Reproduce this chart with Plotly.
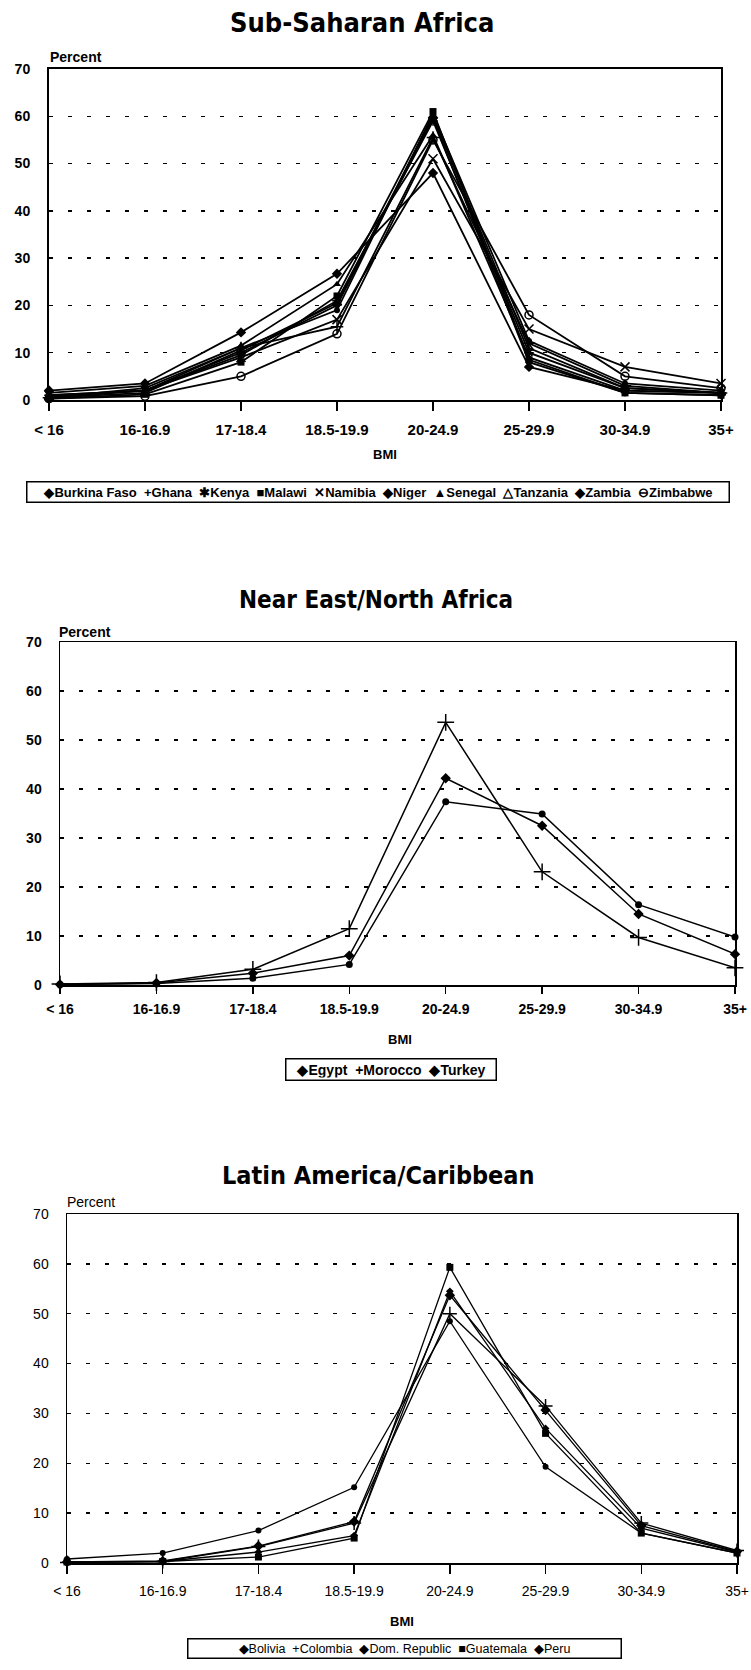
import plotly.graph_objects as go

# ---------------- data ----------------
bmi_categories = ["< 16", "16-16.9", "17-18.4", "18.5-19.9", "20-24.9", "25-29.9", "30-34.9", "35+"]

# Sub-Saharan Africa (percent of women in each BMI class)
ssa_burkina_faso = [0.8, 2.0, 10.0, 20.0, 59.5, 8.0, 1.5, 1.0]
ssa_ghana = [0.5, 2.0, 11.0, 15.5, 55.5, 12.0, 3.0, 1.5]
ssa_kenya = [1.0, 2.0, 9.5, 21.0, 59.0, 10.0, 2.5, 1.5]
ssa_malawi = [0.3, 1.2, 8.0, 22.0, 61.0, 8.5, 1.5, 1.0]
ssa_namibia = [1.0, 2.0, 9.0, 17.0, 51.0, 15.0, 7.0, 3.5]
ssa_niger = [2.0, 3.5, 14.3, 26.7, 48.0, 7.0, 2.0, 1.5]
ssa_senegal = [1.5, 3.0, 11.5, 24.5, 56.0, 9.0, 2.0, 1.5]
ssa_tanzania = [0.5, 1.5, 10.5, 20.5, 60.0, 11.0, 2.5, 1.5]
ssa_zambia = [0.5, 2.5, 11.0, 19.0, 60.5, 12.5, 3.5, 2.0]
ssa_zimbabwe = [0.3, 0.8, 5.0, 14.0, 55.0, 18.0, 5.0, 2.5]

# Near East / North Africa
ne_egypt = [0.1, 0.3, 1.4, 4.2, 37.4, 34.9, 16.4, 9.8]
ne_morocco = [0.2, 0.5, 3.2, 11.5, 53.6, 23.1, 9.7, 3.5]
ne_turkey = [0.1, 0.4, 2.4, 6.0, 42.2, 32.5, 14.5, 6.3]

# Latin America / Caribbean
la_bolivia = [0.2, 0.3, 2.2, 5.5, 54.5, 27.0, 7.0, 2.2]
la_colombia = [0.1, 0.3, 3.3, 8.0, 50.0, 31.5, 8.0, 2.5]
la_dom_republic = [0.8, 2.0, 6.5, 15.2, 48.5, 19.3, 6.0, 2.0]
la_guatemala = [0.2, 0.3, 1.2, 5.0, 59.3, 26.0, 6.0, 2.0]
la_peru = [0.2, 0.4, 3.4, 8.3, 53.7, 30.7, 7.5, 2.3]

# ---------------- styling ----------------
W, H = 751, 1670
TICK_FONT = "Liberation Sans, Arial, sans-serif"
TITLE_FONT = "DejaVu Sans Condensed, Liberation Sans, sans-serif"
SP = "\u00a0\u00a0"


def fx(p):
    return p / W


def fy(p):
    return 1 - p / H


panels = [
    dict(
        title="Sub-Saharan Africa", title_xy=(362, 22), title_size=27,
        percent_xy=(48, 57), bmi_xy=(385, 455),
        legend_xy=(378, 492), legend_w=697, legend_size=13,
        legend_text=SP.join(["◆Burkina Faso", "+Ghana", "✱Kenya", "■Malawi", "✕Namibia",
                             "◆Niger", "▲Senegal", "△Tanzania", "◆Zambia", "⊖Zimbabwe"]),
        xdom=(49, 721), ydom=(69, 400), weight="bold", lw=1.8, frame=2,
        xsize=15, ticklen=9, standoff=6,
        series=[
            ("Burkina Faso", ssa_burkina_faso, "diamond", 6),
            ("Ghana", ssa_ghana, "cross-thin", 9),
            ("Kenya", ssa_kenya, "asterisk", 8),
            ("Malawi", ssa_malawi, "square", 7),
            ("Namibia", ssa_namibia, "x-thin", 9),
            ("Niger", ssa_niger, "diamond", 8),
            ("Senegal", ssa_senegal, "triangle-up", 7),
            ("Tanzania", ssa_tanzania, "triangle-up-open", 8),
            ("Zambia", ssa_zambia, "circle", 6),
            ("Zimbabwe", ssa_zimbabwe, "circle-open", 8),
        ],
    ),
    dict(
        title="Near East/North Africa", title_xy=(376, 600), title_size=24,
        percent_xy=(57, 632), bmi_xy=(400, 1039),
        legend_xy=(391, 1069), legend_w=205, legend_size=14,
        legend_text=SP.join(["◆Egypt", "+Morocco", "◆Turkey"]),
        xdom=(60, 735), ydom=(642, 985), weight="bold", lw=1.5, frame=1.5,
        xsize=14, ticklen=7, standoff=4,
        series=[
            ("Egypt", ne_egypt, "circle", 7),
            ("Morocco", ne_morocco, "cross-thin", 12),
            ("Turkey", ne_turkey, "diamond", 8),
        ],
    ),
    dict(
        title="Latin America/Caribbean", title_xy=(378, 1175), title_size=25,
        percent_xy=(65, 1202), bmi_xy=(402, 1621),
        legend_xy=(404, 1648), legend_w=428, legend_size=12.5,
        legend_text=SP.join(["◆Bolivia", "+Colombia", "◆Dom. Republic", "■Guatemala", "◆Peru"]),
        xdom=(67, 737), ydom=(1214, 1563), weight="normal", lw=1.3, frame=1.5,
        xsize=14, ticklen=9, standoff=6,
        series=[
            ("Bolivia", la_bolivia, "diamond", 6),
            ("Colombia", la_colombia, "cross-thin", 10),
            ("Dom. Republic", la_dom_republic, "circle", 6),
            ("Guatemala", la_guatemala, "square", 7),
            ("Peru", la_peru, "diamond", 8),
        ],
    ),
]

fig = go.Figure()
annotations = []
layout_axes = {}

for i, p in enumerate(panels):
    suf = "" if i == 0 else str(i + 1)
    for name, vals, sym, size in p["series"]:
        line_marker = sym in ("cross-thin", "x-thin", "asterisk", "circle-open", "triangle-up-open")
        fig.add_trace(go.Scatter(
            x=bmi_categories, y=vals, name=name, mode="lines+markers",
            xaxis="x" + suf, yaxis="y" + suf, showlegend=False, cliponaxis=False,
            line=dict(color="black", width=p["lw"]),
            marker=dict(symbol=sym, size=size, color="black",
                        line=dict(color="black", width=1.5 if line_marker else 0)),
        ))

    layout_axes["xaxis" + suf] = dict(
        domain=[fx(p["xdom"][0]), fx(p["xdom"][1])], anchor="y" + suf,
        type="category", categoryorder="array", categoryarray=bmi_categories,
        range=[0, 7], showgrid=False, zeroline=False, automargin=False,
        showline=True, mirror=True, linecolor="black", linewidth=p["frame"],
        ticks="outside", ticklen=p["ticklen"], tickwidth=1.5, tickcolor="black",
        ticklabelstandoff=p["standoff"],
        tickfont=dict(family=TICK_FONT, size=p["xsize"], color="black", weight=p["weight"]),
        fixedrange=True,
    )
    layout_axes["yaxis" + suf] = dict(
        domain=[fy(p["ydom"][1]), fy(p["ydom"][0])], anchor="x" + suf,
        range=[0, 70], tick0=0, dtick=10, zeroline=False, automargin=False,
        showgrid=True, gridcolor="black", gridwidth=1.5, griddash="4px,15px",
        showline=True, mirror=True, linecolor="black", linewidth=p["frame"],
        ticks="", ticklabelstandoff=14,
        tickfont=dict(family=TICK_FONT, size=14, color="black", weight=p["weight"]),
        fixedrange=True,
    )

    annotations.append(dict(
        text=p["title"], x=fx(p["title_xy"][0]), y=fy(p["title_xy"][1]),
        xref="paper", yref="paper", xanchor="center", yanchor="middle", showarrow=False,
        font=dict(family=TITLE_FONT, size=p["title_size"], color="black", weight="bold"),
    ))
    annotations.append(dict(
        text="Percent", x=fx(p["percent_xy"][0]), y=fy(p["percent_xy"][1]),
        xref="paper", yref="paper", xanchor="left", yanchor="middle", showarrow=False,
        font=dict(family=TICK_FONT, size=14, color="black", weight=p["weight"]),
    ))
    annotations.append(dict(
        text="BMI", x=fx(p["bmi_xy"][0]), y=fy(p["bmi_xy"][1]),
        xref="paper", yref="paper", xanchor="center", yanchor="middle", showarrow=False,
        font=dict(family=TICK_FONT, size=13, color="black", weight="bold"),
    ))
    annotations.append(dict(
        text=p["legend_text"], x=fx(p["legend_xy"][0]), y=fy(p["legend_xy"][1]),
        xref="paper", yref="paper", xanchor="center", yanchor="middle", showarrow=False,
        width=p["legend_w"], align="center",
        bordercolor="black", borderwidth=1.5, borderpad=2, bgcolor="white",
        font=dict(family=TICK_FONT, size=p["legend_size"], color="black", weight=p["weight"]),
    ))

fig.update_layout(
    width=W, height=H, margin=dict(l=0, r=0, t=0, b=0, autoexpand=False),
    paper_bgcolor="white", plot_bgcolor="white",
    showlegend=False, annotations=annotations, **layout_axes,
)

# remove the browser's default page margin so the figure fills the window exactly
fig.write_html(
    "out.html",
    config={"displayModeBar": False, "staticPlot": True},
    post_script="document.body.style.margin='0';document.body.style.overflow='hidden';",
)
